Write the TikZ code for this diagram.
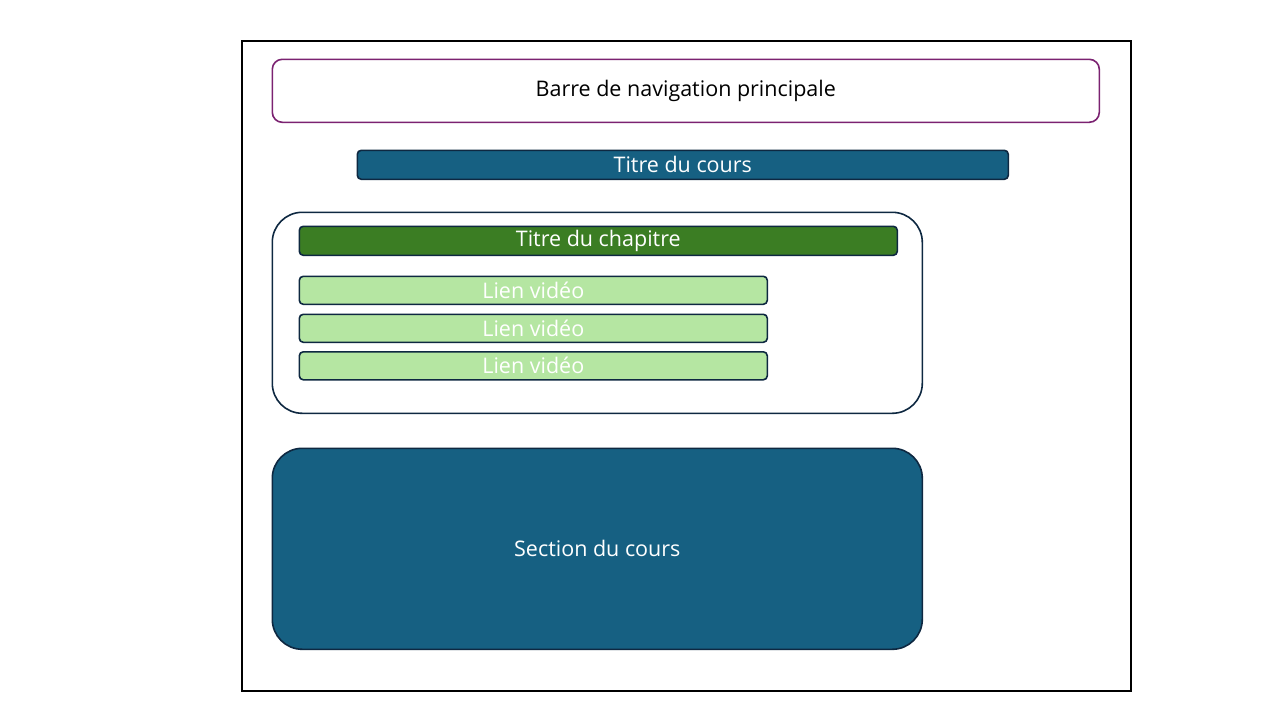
\documentclass[tikz,border=0pt]{standalone}
\usepackage{fontspec}
\setmainfont{Open Sans}
\definecolor{navpurple}{HTML}{7B2271}
\definecolor{bluefill}{HTML}{166082}
\definecolor{darkline}{HTML}{0E2841}
\definecolor{greenfill}{HTML}{3B7D23}
\definecolor{lightgreen}{HTML}{B5E6A2}
\tikzset{
  box/.style={draw=darkline, line width=1.6pt, inner sep=0pt, anchor=north west, font=\fontsize{21.5}{24}\selectfont, text=white},
}
\begin{document}
\begin{tikzpicture}[x=1pt,y=-1pt]
\useasboundingbox (0,0) rectangle (1280,720);
\fill[white] (0,0) rectangle (1280,720);
\draw[black, line width=1.8pt] (242,41) rectangle (1131,691);
\node[box, draw=navpurple, fill=white, text=black, rounded corners=10pt, minimum width=827pt, minimum height=63pt] (nav) at (271.5,58.5) {Barre de navigation principale};
\node[box, fill=bluefill, rounded corners=4pt, minimum width=651pt, minimum height=29pt] (ctitle) at (356.5,149.5) {Titre du cours};
\node[box, fill=white, rounded corners=30pt, minimum width=650pt, minimum height=201pt] (chap) at (271.5,211.5) {};
\node[box, fill=greenfill, rounded corners=4pt, minimum width=598pt, minimum height=29pt] (chtitle) at (298.5,225.5) {Titre du chapitre};
\node[box, fill=lightgreen, rounded corners=4pt, minimum width=468pt, minimum height=28pt] (v1) at (298.5,275.5) {Lien vidéo};
\node[box, fill=lightgreen, rounded corners=4pt, minimum width=468pt, minimum height=28pt] (v2) at (298.5,313.5) {Lien vidéo};
\node[box, fill=lightgreen, rounded corners=4pt, minimum width=468pt, minimum height=28pt] (v3) at (298.5,351) {Lien vidéo};
\node[box, fill=bluefill, rounded corners=30pt, minimum width=650pt, minimum height=201pt] (sect) at (271.5,447.5) {Section du cours};
\end{tikzpicture}
\end{document}
